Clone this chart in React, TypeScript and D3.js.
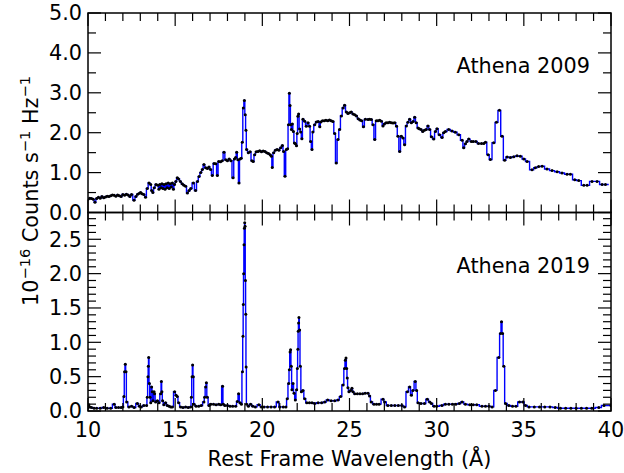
import React from "react";
import * as d3 from "d3";

// Athena 2009 spectrum: wavelength (Å), counts
const wave2009 = [10.0,10.1,10.2,10.3,10.4,10.5,10.6,10.7,10.8,10.9,11.0,11.1,11.2,11.3,11.4,11.5,11.6,11.7,11.8,11.9,12.0,12.1,12.2,12.3,12.4,12.5,12.64,12.75,12.85,12.95,13.02,13.1,13.2,13.3,13.4,13.5,13.6,13.65,13.72,13.8,13.9,14.0,14.07,14.12,14.18,14.24,14.3,14.36,14.42,14.48,14.54,14.6,14.66,14.72,14.78,14.84,14.9,14.96,15.04,15.12,15.2,15.3,15.4,15.5,15.6,15.7,15.8,15.9,16.04,16.17,16.28,16.37,16.47,16.56,16.65,16.75,16.85,16.94,17.03,17.13,17.23,17.33,17.42,17.5,17.6,17.7,17.8,17.9,18.0,18.1,18.2,18.32,18.4,18.47,18.53,18.6,18.66,18.72,18.79,18.85,18.91,18.97,19.02,19.06,19.1,19.2,19.3,19.4,19.48,19.56,19.65,19.75,19.85,19.95,20.05,20.15,20.25,20.35,20.45,20.52,20.57,20.65,20.75,20.85,20.95,21.05,21.15,21.22,21.3,21.38,21.45,21.5,21.55,21.59,21.63,21.67,21.72,21.78,21.84,21.9,21.96,22.0,22.04,22.08,22.14,22.2,22.27,22.33,22.43,22.52,22.62,22.71,22.77,22.85,22.9,23.0,23.1,23.2,23.3,23.35,23.45,23.55,23.65,23.75,23.85,23.95,24.05,24.15,24.24,24.34,24.43,24.53,24.63,24.72,24.82,24.91,25.0,25.1,25.2,25.3,25.4,25.5,25.6,25.7,25.8,25.91,26.06,26.15,26.25,26.35,26.45,26.54,26.63,26.73,26.83,26.92,27.0,27.1,27.2,27.3,27.4,27.5,27.6,27.7,27.78,27.88,27.97,28.07,28.16,28.26,28.35,28.45,28.55,28.65,28.74,28.83,28.93,29.0,29.1,29.2,29.3,29.4,29.5,29.6,29.7,29.83,29.93,30.02,30.16,30.31,30.4,30.5,30.69,30.88,31.07,31.27,31.46,31.55,31.65,31.74,31.84,31.99,32.1,32.25,32.4,32.57,32.7,32.8,32.95,33.08,33.27,33.43,33.6,33.75,33.9,34.04,34.23,34.42,34.61,34.8,35.0,35.19,35.47,35.66,35.85,36.05,36.33,36.62,36.91,37.19,37.48,37.67,37.92,38.15,38.44,38.63,38.91,39.2,39.49,39.68,40.06];
const flux2009 = [0.33,0.36,0.35,0.33,0.26,0.35,0.38,0.36,0.40,0.37,0.39,0.41,0.40,0.42,0.44,0.43,0.41,0.44,0.42,0.40,0.45,0.43,0.46,0.44,0.40,0.45,0.31,0.40,0.46,0.48,0.50,0.47,0.45,0.38,0.60,0.74,0.70,0.55,0.50,0.62,0.70,0.68,0.58,0.70,0.62,0.72,0.60,0.70,0.58,0.72,0.62,0.74,0.60,0.72,0.64,0.74,0.58,0.70,0.78,0.87,0.84,0.78,0.72,0.68,0.66,0.49,0.55,0.60,0.74,0.55,0.78,0.90,1.00,1.08,1.20,1.12,1.10,1.14,1.08,0.93,1.23,1.22,0.93,1.28,1.27,1.30,1.51,1.32,1.30,1.34,1.30,0.87,1.34,1.38,1.51,1.32,0.74,1.34,1.36,1.76,2.62,2.81,2.45,2.06,1.58,1.50,1.52,1.30,1.28,1.45,1.52,1.53,1.55,1.52,1.54,1.53,1.50,1.48,1.45,1.41,1.13,1.50,1.56,1.58,1.56,1.62,1.68,1.53,0.91,1.58,1.60,2.20,2.99,2.68,2.20,2.08,2.22,2.03,1.74,1.72,1.67,1.98,2.41,2.47,2.09,2.02,1.85,2.34,2.29,2.16,2.25,2.16,1.78,1.58,2.02,2.20,2.27,2.28,2.15,2.27,2.30,2.30,2.31,2.30,2.32,2.30,2.28,1.98,1.24,1.83,2.08,2.42,2.62,2.69,2.52,2.48,2.50,2.52,2.47,2.45,2.42,2.35,2.32,2.30,2.15,2.34,2.33,2.34,2.33,2.20,1.83,2.30,2.30,2.31,2.29,2.17,2.22,2.25,2.25,2.26,2.25,2.24,2.25,2.16,1.91,1.53,1.91,1.87,1.70,2.17,2.26,2.34,2.25,2.28,2.39,2.25,2.12,2.10,2.08,2.03,2.06,2.08,2.17,2.08,1.90,1.84,2.03,2.10,1.95,1.88,2.00,2.03,2.08,2.04,2.01,1.95,1.81,1.62,1.72,1.78,1.84,1.78,1.78,1.78,1.73,1.73,1.73,1.76,1.45,1.33,1.75,2.26,2.56,1.91,1.31,1.39,1.38,1.40,1.42,1.41,1.34,1.28,1.07,1.12,1.15,1.16,1.09,1.05,1.02,0.99,0.96,0.96,0.82,0.80,0.68,0.68,0.78,0.78,0.70,0.70];

// Athena 2019 spectrum
const wave2019 = [10.0,10.05,10.1,10.2,10.35,10.5,10.7,10.9,11.1,11.3,11.5,11.6,11.75,11.9,12.0,12.06,12.1,12.14,12.18,12.22,12.35,12.5,12.65,12.83,12.95,13.05,13.2,13.36,13.4,13.44,13.46,13.48,13.52,13.56,13.6,13.65,13.69,13.73,13.79,13.82,13.88,13.98,14.07,14.17,14.21,14.24,14.28,14.35,14.45,14.55,14.65,14.75,14.84,14.97,15.05,15.12,15.2,15.31,15.45,15.6,15.75,15.89,15.93,15.97,16.0,16.04,16.08,16.2,16.35,16.5,16.65,16.69,16.75,16.79,16.84,16.94,17.05,17.2,17.35,17.5,17.61,17.72,17.76,17.85,18.0,18.15,18.3,18.47,18.57,18.64,18.72,18.8,18.86,18.89,18.91,18.93,18.95,18.97,18.99,19.01,19.03,19.05,19.07,19.1,19.2,19.33,19.45,19.6,19.8,19.95,20.1,20.3,20.5,20.7,20.9,21.0,21.2,21.35,21.43,21.51,21.55,21.59,21.62,21.66,21.7,21.76,21.82,21.89,21.97,22.01,22.04,22.06,22.08,22.1,22.14,22.18,22.24,22.33,22.43,22.55,22.7,22.85,23.0,23.2,23.4,23.58,23.75,23.95,24.15,24.34,24.49,24.63,24.72,24.76,24.8,24.84,24.87,24.91,24.97,25.07,25.14,25.2,25.3,25.45,25.6,25.75,25.9,26.06,26.15,26.25,26.4,26.55,26.7,26.92,27.02,27.2,27.4,27.6,27.8,28.0,28.16,28.32,28.45,28.55,28.64,28.77,28.85,28.93,29.1,29.3,29.46,29.6,29.7,29.85,30.0,30.3,30.5,30.7,30.9,31.1,31.3,31.46,31.65,31.9,32.1,32.3,32.6,32.8,33.0,33.18,33.37,33.56,33.66,33.72,33.78,33.85,33.95,34.14,34.35,34.55,34.75,34.94,35.1,35.3,35.6,35.9,36.2,36.5,36.8,37.1,37.4,37.7,38.0,38.3,38.6,38.9,39.3,39.6,40.0];
const flux2019 = [0.05,0.09,0.06,0.05,0.04,0.04,0.04,0.05,0.04,0.04,0.10,0.05,0.05,0.05,0.06,0.21,0.57,0.68,0.57,0.13,0.06,0.07,0.05,0.11,0.07,0.06,0.08,0.08,0.20,0.50,0.65,0.78,0.40,0.20,0.12,0.35,0.28,0.15,0.28,0.25,0.13,0.15,0.12,0.25,0.43,0.28,0.15,0.09,0.12,0.08,0.07,0.06,0.06,0.28,0.23,0.21,0.12,0.06,0.05,0.06,0.05,0.06,0.20,0.50,0.67,0.50,0.10,0.07,0.07,0.08,0.13,0.20,0.35,0.41,0.20,0.08,0.10,0.10,0.09,0.10,0.09,0.36,0.10,0.08,0.08,0.07,0.07,0.07,0.14,0.25,0.12,0.10,0.57,1.09,1.55,2.00,2.42,2.66,2.74,2.69,1.90,1.41,0.64,0.10,0.07,0.10,0.07,0.06,0.09,0.06,0.06,0.06,0.06,0.06,0.13,0.06,0.06,0.06,0.18,0.40,0.60,0.86,0.89,0.65,0.31,0.40,0.26,0.16,0.31,0.62,0.90,1.16,1.28,1.36,1.18,0.65,0.28,0.30,0.18,0.12,0.12,0.12,0.11,0.12,0.12,0.13,0.16,0.15,0.15,0.16,0.21,0.38,0.62,0.74,0.77,0.62,0.48,0.34,0.28,0.30,0.33,0.28,0.25,0.25,0.25,0.25,0.26,0.26,0.22,0.13,0.10,0.10,0.10,0.17,0.13,0.08,0.08,0.08,0.08,0.08,0.06,0.28,0.35,0.23,0.30,0.43,0.30,0.12,0.11,0.11,0.17,0.13,0.11,0.07,0.07,0.08,0.10,0.10,0.10,0.10,0.11,0.13,0.10,0.09,0.09,0.09,0.07,0.07,0.07,0.06,0.30,0.78,1.13,1.30,1.13,0.65,0.11,0.08,0.07,0.07,0.13,0.13,0.08,0.06,0.06,0.06,0.06,0.06,0.05,0.04,0.04,0.04,0.04,0.04,0.04,0.04,0.05,0.08,0.08];

const xTicks = [10, 15, 20, 25, 30, 35, 40];
const topYTicks = [0, 1, 2, 3, 4, 5];
const botYTicks = [0, 0.5, 1.0, 1.5, 2.0, 2.5];

const W = 624, H = 473;
const L = 88, R = 611, T1 = 13, MID = 212.5, B2 = 411;
const FONT = "'DejaVu Sans', sans-serif";
const FS = 20.8;

function Panel({ id, waves, fluxes, y0, y1, yMax, yMajor, yMinorStep, label, showX }) {
  const x = d3.scaleLinear().domain([10, 40]).range([L, R]);
  const y = d3.scaleLinear().domain([0, yMax]).range([y1, y0]);
  const data = waves.map((w, i) => [w, fluxes[i]]);
  const line = d3.line().x(d => x(d[0])).y(d => y(d[1])).curve(d3.curveStep);
  const xMinor = d3.range(10, 40.001, 1);
  const yMinor = d3.range(0, yMax + 1e-6, yMinorStep);
  const MAJ = 13, MIN = 8;
  const isMajorY = v => yMajor.some(t => Math.abs(t - v) < 1e-6);
  return (
    <g>
      <defs>
        <clipPath id={id}>
          <rect x={L} y={y0} width={R - L} height={y1 - y0} />
        </clipPath>
      </defs>
      <g clipPath={`url(#${id})`}>
        <path d={line(data)} fill="none" stroke="#0000ff" strokeWidth={1.4} />
        {data.map((d, i) => (
          <circle key={i} cx={x(d[0])} cy={y(d[1])} r={1.5} fill="#000" />
        ))}
      </g>
      {xMinor.map((v, i) => {
        const len = Math.abs(v % 5) < 1e-6 ? MAJ : MIN;
        return (
          <g key={"xt" + i} stroke="#000" strokeWidth={1.2}>
            <line x1={x(v)} x2={x(v)} y1={y1} y2={y1 - len} />
            <line x1={x(v)} x2={x(v)} y1={y0} y2={y0 + len} />
          </g>
        );
      })}
      {yMinor.map((v, i) => {
        const len = isMajorY(v) ? MAJ : MIN;
        return (
          <g key={"yt" + i} stroke="#000" strokeWidth={1.2}>
            <line x1={L} x2={L + len} y1={y(v)} y2={y(v)} />
            <line x1={R} x2={R - len} y1={y(v)} y2={y(v)} />
          </g>
        );
      })}
      {yMajor.map((v, i) => (
        <text key={"yl" + i} x={82} y={y(v)} dy="0.36em" textAnchor="end"
          fontFamily={FONT} fontSize={FS} fill="#000">{v.toFixed(1)}</text>
      ))}
      {showX && xTicks.map((v, i) => (
        <text key={"xl" + i} x={x(v)} y={437} textAnchor="middle"
          fontFamily={FONT} fontSize={FS} fill="#000">{v}</text>
      ))}
      <text x={590} y={y0 + 60} textAnchor="end" fontFamily={FONT} fontSize={FS} fill="#000">{label}</text>
      <rect x={L} y={y0} width={R - L} height={y1 - y0} fill="none" stroke="#000" strokeWidth={1.5} />
    </g>
  );
}

export default function App() {
  return (
    <svg width={W} height={H} style={{ display: "block", position: "absolute", left: 0, top: 0 }}>
      <rect x={0} y={0} width={W} height={H} fill="#fff" />
      <Panel id="clipTop" waves={wave2009} fluxes={flux2009} y0={T1} y1={MID} yMax={5}
        yMajor={topYTicks} yMinorStep={0.5} label="Athena 2009" showX={false} />
      <Panel id="clipBot" waves={wave2019} fluxes={flux2019} y0={MID} y1={B2} yMax={2.89}
        yMajor={botYTicks} yMinorStep={0.1} label="Athena 2019" showX={true} />
      <text x={(L + R) / 2} y={466} textAnchor="middle" fontFamily={FONT} fontSize={FS} fill="#000">
        Rest Frame Wavelength (Å)
      </text>
      <text transform="translate(38,191) rotate(-90)" textAnchor="middle" fontFamily={FONT} fontSize={FS} fill="#000">
        <tspan>10</tspan>
        <tspan dy={-8} fontSize={14.6}>−16</tspan>
        <tspan dy={8}> Counts s</tspan>
        <tspan dy={-8} fontSize={14.6}>−1</tspan>
        <tspan dy={8}> Hz</tspan>
        <tspan dy={-8} fontSize={14.6}>−1</tspan>
      </text>
    </svg>
  );
}
